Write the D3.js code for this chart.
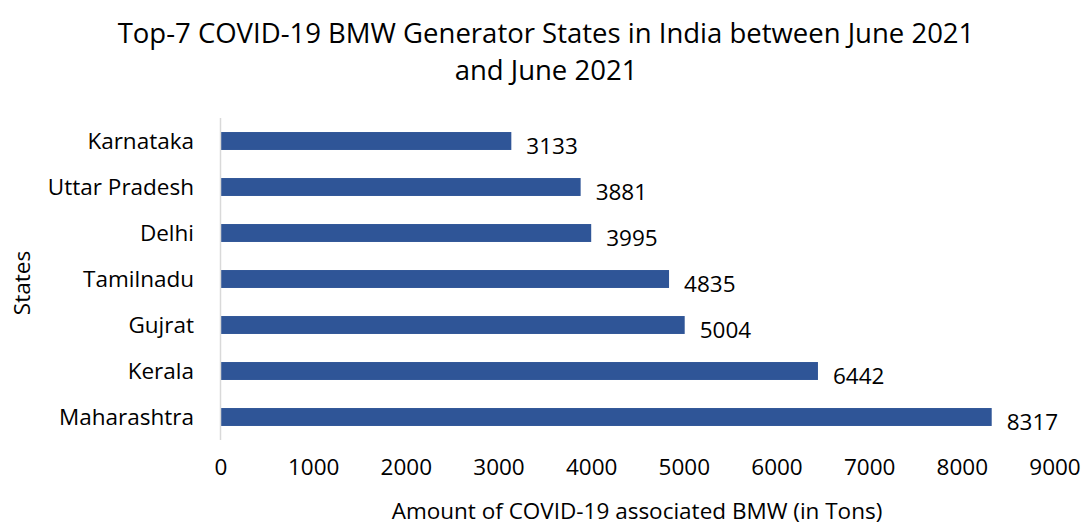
<!DOCTYPE html>
<html>
<head>
<meta charset="utf-8">
<script src="https://cdnjs.cloudflare.com/ajax/libs/d3/7.8.5/d3.min.js"></script>
<style>
  body { margin: 0; background: #fff; }
  svg text { font-family: "Open Sans", "Noto Sans", sans-serif; fill: #000; }
</style>
</head>
<body>
<svg id="chart" width="1083" height="528"></svg>
<script>
//chart data, top of list is drawn at the top
var states = ["Karnataka", "Uttar Pradesh", "Delhi", "Tamilnadu", "Gujrat", "Kerala", "Maharashtra"];
var amounts = [3133, 3881, 3995, 4835, 5004, 6442, 8317];
var xTicks = [0, 1000, 2000, 3000, 4000, 5000, 6000, 7000, 8000, 9000];
var titleLines = ["Top-7 COVID-19 BMW Generator States in India between June 2021", "and June 2021"];

var svg = d3.select("#chart");

//plot area
var plotLeft = 221, plotRight = 1055, plotTop = 118, plotBottom = 440;
var labelSize = "22.5px";

var x = d3.scaleLinear().domain([0, 9000]).range([plotLeft, plotRight]);
var y = d3.scaleBand().domain(states).range([plotTop, plotBottom]).paddingInner(0.61).paddingOuter(0.305);

//title
svg.selectAll(".title").data(titleLines).enter().append("text")
    .attr("class", "title")
    .attr("x", 546)
    .attr("y", function(d, i){ return 33 + i * 37; })
    .attr("dy", "0.35em")
    .attr("text-anchor", "middle")
    .style("font-size", "27.5px")
    .text(function(d){ return d; });

//bars
svg.selectAll(".bar").data(amounts).enter().append("rect")
    .attr("class", "bar")
    .attr("x", x(0))
    .attr("y", function(d, i){ return y(states[i]); })
    .attr("width", function(d){ return x(d) - x(0); })
    .attr("height", y.bandwidth())
    .style("fill", "#2F5597");

//vertical axis line
svg.append("line")
    .attr("x1", plotLeft - 0.5).attr("x2", plotLeft - 0.5)
    .attr("y1", plotTop).attr("y2", plotBottom)
    .style("stroke", "#d9d9d9")
    .style("stroke-width", 1.5);

//category labels
svg.selectAll(".cat").data(states).enter().append("text")
    .attr("class", "cat")
    .attr("x", 194)
    .attr("y", function(d){ return y(d) + y.bandwidth() / 2; })
    .attr("dy", "0.35em")
    .attr("text-anchor", "end")
    .style("font-size", labelSize)
    .text(function(d){ return d; });

//value labels
svg.selectAll(".val").data(amounts).enter().append("text")
    .attr("class", "val")
    .attr("x", function(d){ return x(d) + 15; })
    .attr("y", function(d, i){ return y(states[i]) + y.bandwidth() / 2 + 5; })
    .attr("dy", "0.35em")
    .style("font-size", labelSize)
    .text(function(d){ return d; });

//x tick labels
svg.selectAll(".tick").data(xTicks).enter().append("text")
    .attr("class", "tick")
    .attr("x", function(d){ return x(d); })
    .attr("y", 467)
    .attr("dy", "0.35em")
    .attr("text-anchor", "middle")
    .style("font-size", labelSize)
    .text(function(d){ return d; });

//axis titles
svg.append("text")
    .attr("x", 637)
    .attr("y", 511)
    .attr("dy", "0.35em")
    .attr("text-anchor", "middle")
    .style("font-size", labelSize)
    .text("Amount of COVID-19 associated BMW (in Tons)");

svg.append("text")
    .attr("transform", "translate(22,283) rotate(-90)")
    .attr("dy", "0.35em")
    .attr("text-anchor", "middle")
    .style("font-size", labelSize)
    .text("States");
</script>
</body>
</html>
